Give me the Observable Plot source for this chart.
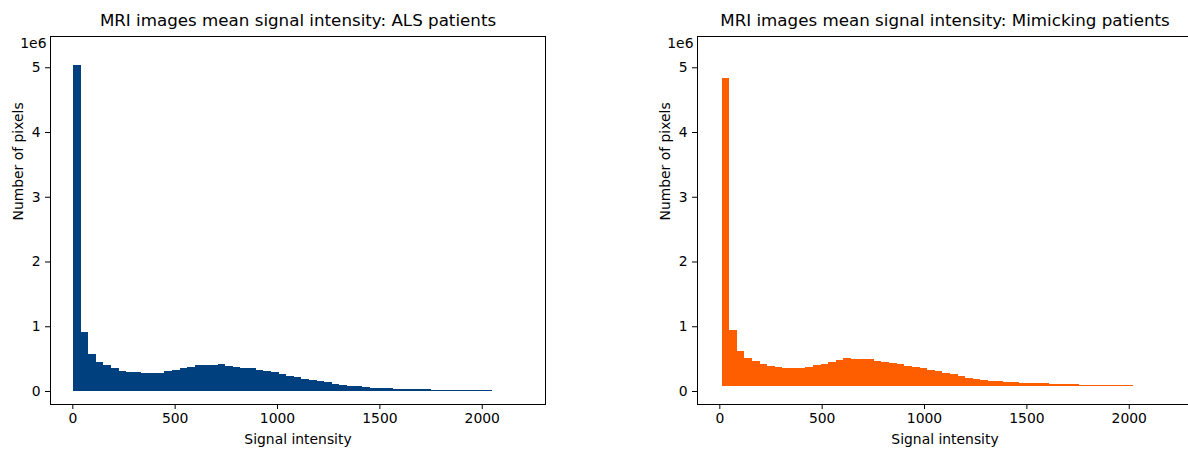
<!DOCTYPE html>
<html><head><meta charset="utf-8">
<script src="https://cdn.jsdelivr.net/npm/d3@7"></script>
<script src="https://cdn.jsdelivr.net/npm/@observablehq/plot@0.6"></script>
<style>
body{margin:0;background:#fff;}
#wrap{position:relative;width:1188px;height:449px;overflow:hidden;background:#fff;}
#wrap > div{position:absolute;top:0;}
#wrap svg{max-width:none !important;}
</style></head><body>
<div id="wrap"><div id="a" style="left:0px;width:594px"></div><div id="b" style="left:594px;width:604px"></div></div>
<script>
// ---- data ----
const xTicks = [0, 500, 1000, 1500, 2000];
const yTicks = [0, 1e6, 2e6, 3e6, 4e6, 5e6];
const titleALS = "MRI images mean signal intensity: ALS patients";
const titleMimic = "MRI images mean signal intensity: Mimicking patients";
const xLabel = "Signal intensity";
const yLabel = "Number of pixels";
const binWidth = 37.2;
const alsBinStart = 3;
const mimicBinStart = 11;
const mimicBaseline = 77000;
const alsCounts = [
  5030000, 905000, 571000, 442000, 396000, 350000, 314000, 288000, 288000, 273000,
  273000, 273000, 303000, 319000, 350000, 365000, 396000, 396000, 396000, 410000,
  380000, 365000, 350000, 350000, 319000, 303000, 288000, 257000, 226000, 211000,
  190000, 165000, 149000, 134000, 103000, 93000, 72000, 72000, 57000, 41000,
  41000, 41000, 31000, 31000, 28000, 28000, 28000, 15000, 15000, 13000,
  12000, 12000, 12000, 10000, 10000
];
const mimicCounts = [
  4840000, 938000, 613000, 505000, 459000, 412000, 381000, 366000, 350000, 350000,
  350000, 366000, 397000, 412000, 443000, 474000, 505000, 489000, 489000, 489000,
  459000, 443000, 428000, 412000, 381000, 366000, 350000, 319000, 304000, 273000,
  258000, 227000, 196000, 180000, 165000, 149000, 149000, 134000, 134000, 119000,
  119000, 119000, 119000, 103000, 103000, 103000, 103000, 88000, 88000, 88000,
  88000, 88000, 88000, 88000
];
const alsColor = "#00407f";
const mimicColor = "#ff5e00";

function bins(counts, start, base) {
  return counts.map((v, i) => ({x1: start + i * binWidth, x2: start + (i + 1) * binWidth, y1: base, y2: v}));
}

function panel(data, color, title, width, mLeft, mRight) {
  return Plot.plot({
    width, height: 449,
    marginTop: 36, marginBottom: 45, marginLeft: mLeft, marginRight: mRight,
    style: {fontFamily: "DejaVu Sans", fontSize: "13.9px", background: "white", color: "black", maxWidth: "none"},
    x: {domain: [-109, 2309], ticks: xTicks, tickFormat: d3.format("d"), tickSize: 5, tickPadding: 4, label: null},
    y: {domain: [-200800, 5483000], ticks: yTicks, tickFormat: d => d / 1e6, tickSize: 5, tickPadding: 5, label: null},
    marks: [
      Plot.rect(data, {x1: "x1", x2: "x2", y1: "y1", y2: "y2", fill: color, shapeRendering: "crispEdges"}),
      Plot.frame({stroke: "black", strokeWidth: 1}),
      Plot.text([title], {frameAnchor: "top", dy: -16, fontSize: 16.7, lineAnchor: "middle"}),
      Plot.text(["1e6"], {frameAnchor: "top-left", dx: -4, dy: 7, textAnchor: "end", lineAnchor: "middle"}),
      Plot.text([xLabel], {frameAnchor: "bottom", dy: 35, lineAnchor: "middle"}),
      Plot.text([yLabel], {frameAnchor: "left", dx: -32, rotate: -90, lineAnchor: "middle"})
    ]
  });
}

document.getElementById("a").append(panel(bins(alsCounts, alsBinStart, 0), alsColor, titleALS, 594, 50, 49));
document.getElementById("b").append(panel(bins(mimicCounts, mimicBinStart, mimicBaseline), mimicColor, titleMimic, 604, 103, 6));
</script>
</body></html>
